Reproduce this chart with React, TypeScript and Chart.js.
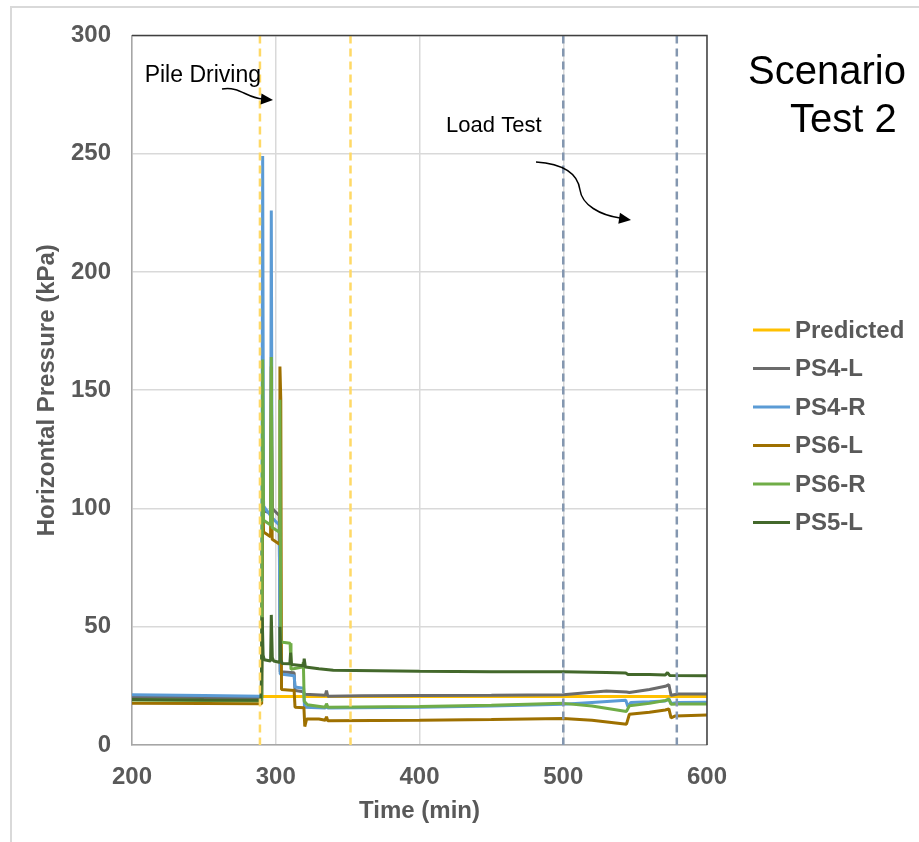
import React, { useEffect, useRef } from "react";
import { Chart, registerables } from "chart.js";

Chart.register(...registerables);

// ---------- data ----------
const SERIES_NAMES = ["Predicted", "PS4-L", "PS4-R", "PS6-L", "PS6-R", "PS5-L"];
const X_TICK_VALUES = [200, 300, 400, 500, 600];
const Y_TICK_VALUES = [0, 50, 100, 150, 200, 250, 300];

const PILE_DRIVING_MARKS = [289, 352];
const LOAD_TEST_MARKS = [500, 579];

const predictedTime = [290, 600];
const predictedKPa = [20.5, 20.5];

const ps4LTime = [200, 250, 289.6, 290.2, 290.9, 291.6, 296.4, 296.9, 297.6, 302.4, 303.1, 312.8, 313.4, 319.4, 320, 334.5, 335.3, 336.2, 360, 400, 450, 500, 530, 544, 546, 560, 571, 573.5, 575, 580, 600];
const ps4LKPa = [20.3, 20.1, 20, 20, 130, 99, 98, 135, 100, 97, 31, 30.5, 23, 22.5, 21.5, 21, 23, 20.6, 20.8, 20.9, 21, 21.2, 22.8, 22.4, 22.2, 23.5, 24.8, 25.5, 21, 21.6, 21.6];

const ps4RTime = [200, 250, 289.6, 290.2, 290.9, 291.5, 296.4, 296.9, 297.5, 302.4, 303.1, 312.8, 313.4, 319.4, 320, 334.5, 335.3, 336.2, 400, 450, 500, 520, 543.5, 545, 547, 560, 571, 573.5, 575, 580, 600];
const ps4RKPa = [21.2, 20.9, 20.6, 20.6, 249, 101, 97, 226, 96, 93, 30, 29.3, 24.5, 24, 16, 15.6, 17, 15.6, 16, 16.5, 17.2, 18, 18.9, 16.2, 18, 18.3, 18.6, 19.5, 17.6, 18, 18.1];

const ps6LTime = [200, 250, 289.6, 290.2, 290.9, 291.5, 296.4, 296.9, 297.5, 302.4, 302.9, 303.5, 304, 312.8, 313.4, 319.6, 320.2, 321.5, 330, 334.5, 335.3, 336.2, 400, 450, 500, 520, 544, 546, 560, 571, 573.5, 575, 578, 600];
const ps6LKPa = [17.6, 17.5, 17.4, 17.4, 110, 90, 88, 160, 87, 85, 160, 146, 23.5, 23, 16, 15.8, 7.8, 11, 11, 10.5, 12, 10.2, 10.5, 10.8, 11.2, 10.5, 8.8, 13, 13.8, 14.8, 15.3, 11.5, 12.3, 12.7];

const ps6RTime = [200, 250, 289.6, 290.2, 290.9, 291.5, 296.4, 296.9, 297.5, 302.4, 302.9, 303.5, 310, 310.6, 318.5, 319.2, 319.8, 322, 334.5, 335.3, 336.2, 400, 450, 500, 520, 544, 546, 560, 571, 573.5, 575, 580, 600];
const ps6RKPa = [19, 18.8, 18.7, 18.7, 163, 95, 93, 164, 92, 90, 146, 43.5, 43, 32, 33, 35, 18.5, 17, 16, 17.5, 16, 16.3, 16.8, 17.6, 16.5, 14.2, 16.6, 17.6, 18.8, 19.3, 17.2, 17.3, 17.3];

const ps5LTime = [200, 250, 289.6, 290.1, 290.6, 291.2, 292, 296.4, 296.9, 297.6, 298.5, 302.4, 302.9, 303.6, 304.5, 309.8, 310.3, 311, 319.3, 319.8, 320.6, 330, 340, 400, 450, 500, 530, 543.5, 545, 560, 571, 572.5, 574, 600];
const ps5LKPa = [19.2, 19, 18.9, 30, 54, 38, 36, 35.5, 55, 37, 35.5, 35, 50, 36, 34.5, 34.3, 39, 34, 33.5, 36.5, 33, 32.2, 31.6, 31.2, 31, 31, 30.6, 30.4, 29.8, 29.8, 29.6, 30.6, 29.4, 29.3];

// ---------- styling ----------
const COLORS = ["#FFC000", "#6B6B6B", "#5B9BD5", "#9E7000", "#70AD47", "#43682B"];
const TEXT_GRAY = "#595959";
const FONT_FAMILY = "'Liberation Sans', Arial, sans-serif";

const toPoints = (t: number[], v: number[]) => t.map((x, i) => ({ x, y: v[i] }));

const seriesPoints = [
  toPoints(predictedTime, predictedKPa),
  toPoints(ps4LTime, ps4LKPa),
  toPoints(ps4RTime, ps4RKPa),
  toPoints(ps6LTime, ps6LKPa),
  toPoints(ps6RTime, ps6RKPa),
  toPoints(ps5LTime, ps5LKPa),
];

const decorPlugin = {
  id: "decor",
  beforeDraw(chart: any) {
    const ctx = chart.ctx;
    ctx.save();
    ctx.fillStyle = "#ffffff";
    ctx.fillRect(0, 0, chart.width, chart.height);
    ctx.strokeStyle = "#d9d9d9";
    ctx.lineWidth = 2;
    ctx.strokeRect(11, 7, chart.width + 20, chart.height + 20);
    ctx.restore();
  },
  afterDatasetsDraw(chart: any) {
    const ctx = chart.ctx;
    const xs = chart.scales.x;
    const ys = chart.scales.y;
    const area = chart.chartArea;
    ctx.save();
    // vertical dashed markers
    ctx.lineWidth = 2.5;
    ctx.setLineDash([8, 5]);
    const drawMarks = (vals: number[], color: string) => {
      ctx.strokeStyle = color;
      vals.forEach((v) => {
        const px = xs.getPixelForValue(v);
        ctx.beginPath();
        ctx.moveTo(px, area.top);
        ctx.lineTo(px, area.bottom);
        ctx.stroke();
      });
    };
    drawMarks(PILE_DRIVING_MARKS, "#FFD966");
    drawMarks(LOAD_TEST_MARKS, "#8497B0");
    ctx.setLineDash([]);

    // top/right frame of plot area
    ctx.strokeStyle = "#404040";
    ctx.lineWidth = 1.5;
    ctx.beginPath();
    ctx.moveTo(area.left, area.top);
    ctx.lineTo(area.right, area.top);
    ctx.lineTo(area.right, area.bottom);
    ctx.stroke();

    // annotations
    ctx.fillStyle = "#000000";
    ctx.strokeStyle = "#000000";
    ctx.font = `23px ${FONT_FAMILY}`;
    ctx.textBaseline = "alphabetic";
    ctx.textAlign = "left";
    ctx.fillText("Pile Driving", xs.getPixelForValue(208.8), ys.getPixelForValue(280.5));
    ctx.font = `22px ${FONT_FAMILY}`;
    ctx.fillText("Load Test", xs.getPixelForValue(418.5), ys.getPixelForValue(259));

    const arrowHead = (tipX: number, tipY: number, ang: number) => {
      const len = 12, half = 5.5;
      const bx = tipX - len * Math.cos(ang);
      const by = tipY - len * Math.sin(ang);
      ctx.beginPath();
      ctx.moveTo(tipX, tipY);
      ctx.lineTo(bx + half * Math.sin(ang), by - half * Math.cos(ang));
      ctx.lineTo(bx - half * Math.sin(ang), by + half * Math.cos(ang));
      ctx.closePath();
      ctx.fill();
    };
    ctx.lineWidth = 1.5;
    // pile driving arrow
    ctx.beginPath();
    ctx.moveTo(222, 89);
    ctx.bezierCurveTo(240, 86, 246, 98, 263, 99);
    ctx.stroke();
    arrowHead(273, 100, 0.08);
    // load test arrow
    ctx.beginPath();
    ctx.moveTo(536, 162);
    ctx.bezierCurveTo(565, 164, 578, 175, 580, 190);
    ctx.bezierCurveTo(582, 205, 600, 215, 620, 218);
    ctx.stroke();
    arrowHead(631, 220, 0.15);

    // scenario label
    ctx.font = `40px ${FONT_FAMILY}`;
    ctx.fillText("Scenario", 748, 84);
    ctx.fillText("Test 2", 790, 132);

    // legend
    const startY = 330;
    const step = 38.5;
    ctx.font = `bold 24px ${FONT_FAMILY}`;
    ctx.textBaseline = "middle";
    chart.data.datasets.forEach((ds: any, i: number) => {
      const y = startY + i * step;
      ctx.strokeStyle = ds.borderColor;
      ctx.lineWidth = 3;
      ctx.beginPath();
      ctx.moveTo(753, y);
      ctx.lineTo(790, y);
      ctx.stroke();
      ctx.fillStyle = TEXT_GRAY;
      ctx.fillText(ds.label, 795, y + 1);
    });
    ctx.restore();
  },
};

export default function App() {
  const ref = useRef<HTMLCanvasElement>(null);
  useEffect(() => {
    const canvas = ref.current;
    if (!canvas) return;
    const datasets = SERIES_NAMES.map((name, i) => ({
      label: name,
      data: seriesPoints[i],
      borderColor: COLORS[i],
      backgroundColor: COLORS[i],
      borderWidth: 3,
      pointRadius: 0,
      tension: 0,
      fill: false,
      borderJoinStyle: "bevel" as const,
      order: SERIES_NAMES.length - 1 - i,
    }));
    const tickFont = { family: FONT_FAMILY, size: 24, weight: "bold" as const };
    const chart = new Chart(canvas, {
      type: "line",
      data: { datasets },
      options: {
        animation: false,
        responsive: false,
        devicePixelRatio: 1,
        layout: { padding: { left: 0, top: 30, right: 212, bottom: 0 } },
        plugins: { legend: { display: false }, tooltip: { enabled: false }, title: { display: false } },
        scales: {
          x: {
            type: "linear",
            min: 200,
            max: 600,
            afterBuildTicks: (scale: any) => {
              scale.ticks = X_TICK_VALUES.map((v) => ({ value: v }));
            },
            afterFit: (scale: any) => {
              scale.height = 97;
            },
            ticks: { font: tickFont, color: TEXT_GRAY, padding: 18, maxRotation: 0 },
            grid: { color: "#d9d9d9", lineWidth: 1.5, drawTicks: false },
            border: { display: true, color: "#a6a6a6", width: 1.5 },
            title: {
              display: true,
              text: "Time (min)",
              font: tickFont,
              color: TEXT_GRAY,
              padding: { top: 0, bottom: 16 },
            },
          },
          y: {
            type: "linear",
            min: 0,
            max: 300,
            afterBuildTicks: (scale: any) => {
              scale.ticks = Y_TICK_VALUES.map((v) => ({ value: v }));
            },
            afterFit: (scale: any) => {
              scale.width = 132;
            },
            ticks: { font: tickFont, color: TEXT_GRAY, padding: 21 },
            grid: { color: "#d9d9d9", lineWidth: 1.5, drawTicks: false },
            border: { display: true, color: "#a6a6a6", width: 1.5 },
            title: {
              display: true,
              text: "Horizontal Pressure (kPa)",
              font: tickFont,
              color: TEXT_GRAY,
              padding: { top: 33, bottom: 0 },
            },
          },
        },
      },
      plugins: [decorPlugin],
    });
    return () => chart.destroy();
  }, []);
  return (
    <div style={{ position: "absolute", left: 0, top: 0, width: 919, height: 842 }}>
      <canvas ref={ref} width={919} height={842} style={{ width: 919, height: 842, display: "block" }} />
    </div>
  );
}
